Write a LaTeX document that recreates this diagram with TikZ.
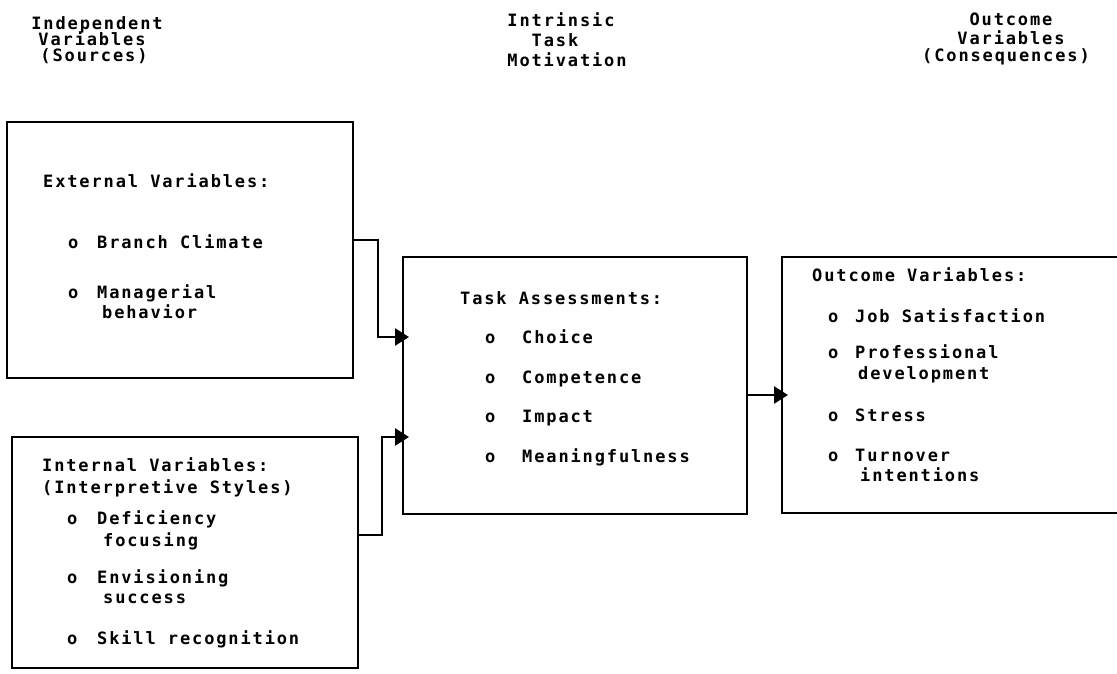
\documentclass[tikz,border=0pt]{standalone}
\usepackage{fontspec}
\usetikzlibrary{arrows.meta}
\newfontfamily\twfont{DejaVu Sans Mono}[LetterSpace=11]
\begin{document}
\begin{tikzpicture}[x=1pt,y=1pt,
  txt/.style={font=\twfont\bfseries\fontsize{17}{20}\selectfont, inner sep=0pt, anchor=base west},
  hdr/.style={font=\twfont\bfseries\fontsize{17}{20}\selectfont, inner sep=0pt, anchor=base},
  frame/.style={draw, line width=2.5pt, inner sep=0pt, outer sep=0pt},
  openframe/.style={inner sep=0pt, outer sep=0pt},
  arr/.style={line width=2.5pt, -{Triangle[length=14pt,width=17pt]}}
]
\useasboundingbox (0,0) rectangle (1117,-674);

% boxes
\node[frame, minimum width=346pt, minimum height=256pt] (ext) at (180,-250) {};
\node[frame, minimum width=346pt, minimum height=231pt] (int) at (185,-552.5) {};
\node[frame, minimum width=344pt, minimum height=257pt] (mid) at (575,-385.5) {};
\node[openframe, minimum width=343pt, minimum height=256pt] (out) at (953.5,-385) {};
\draw[line width=2.5pt] (out.north east) -- (out.north west) -- (out.south west) -- (out.south east);

% headers
\node[hdr] (h1a) at (97,-30) {Independent};
\node[hdr] (h1b) at (92,-46) {Variables};
\node[hdr] (h1c) at (94,-62) {(Sources)};
\node[hdr] (h2a) at (561,-27) {Intrinsic};
\node[hdr] (h2b) at (555,-47) {Task};
\node[hdr] (h2c) at (567,-67) {Motivation};
\node[hdr] (h3a) at (1011,-26) {Outcome};
\node[hdr] (h3b) at (1011,-45) {Variables};
\node[hdr] (h3c) at (1006,-62) {(Consequences)};

% external box text
\node[txt] (e0) at (43,-188) {External Variables:};
\node[txt] (e1o) at (68,-248) {o};
\node[txt] (e1) at (97,-248) {Branch Climate};
\node[txt] (e2o) at (68,-298) {o};
\node[txt] (e2) at (97,-298) {Managerial};
\node[txt] (e2b) at (102,-318) {behavior};

% internal box text
\node[txt] (i0) at (42,-471) {Internal Variables:};
\node[txt] (i0b) at (42,-493) {(Interpretive Styles)};
\node[txt] (i1o) at (67,-524) {o};
\node[txt] (i1) at (97,-524) {Deficiency};
\node[txt] (i1b) at (103,-546) {focusing};
\node[txt] (i2o) at (67,-583) {o};
\node[txt] (i2) at (97,-583) {Envisioning};
\node[txt] (i2b) at (103,-603) {success};
\node[txt] (i3o) at (67,-644) {o};
\node[txt] (i3) at (97,-644) {Skill recognition};

% middle box text
\node[txt] (m0) at (460,-304) {Task Assessments:};
\node[txt] (m1o) at (485,-343) {o};
\node[txt] (m1) at (522,-343) {Choice};
\node[txt] (m2o) at (485,-383) {o};
\node[txt] (m2) at (522,-383) {Competence};
\node[txt] (m3o) at (485,-422) {o};
\node[txt] (m3) at (522,-422) {Impact};
\node[txt] (m4o) at (485,-462) {o};
\node[txt] (m4) at (522,-462) {Meaningfulness};

% outcome box text
\node[txt] (o0) at (812,-281) {Outcome Variables:};
\node[txt] (o1o) at (828,-322) {o};
\node[txt] (o1) at (855,-322) {Job Satisfaction};
\node[txt] (o2o) at (828,-358) {o};
\node[txt] (o2) at (855,-358) {Professional};
\node[txt] (o2b) at (858,-379) {development};
\node[txt] (o3o) at (828,-421) {o};
\node[txt] (o3) at (855,-421) {Stress};
\node[txt] (o4o) at (828,-461) {o};
\node[txt] (o4) at (855,-461) {Turnover};
\node[txt] (o4b) at (860,-481) {intentions};

% connectors
\coordinate (j1) at (378,-240);
\coordinate (k1) at (378,-337);
\draw[arr] (ext.east |- j1) -- (j1) -- (k1) -- ([xshift=6pt]mid.west |- k1);
\coordinate (j2) at (382,-535);
\coordinate (k2) at (382,-437);
\draw[arr] (int.east |- j2) -- (j2) -- (k2) -- ([xshift=6pt]mid.west |- k2);
\coordinate (k3) at (760,-395);
\draw[arr] (mid.east |- k3) -- ([xshift=6pt]out.west |- k3);
\end{tikzpicture}
\end{document}
